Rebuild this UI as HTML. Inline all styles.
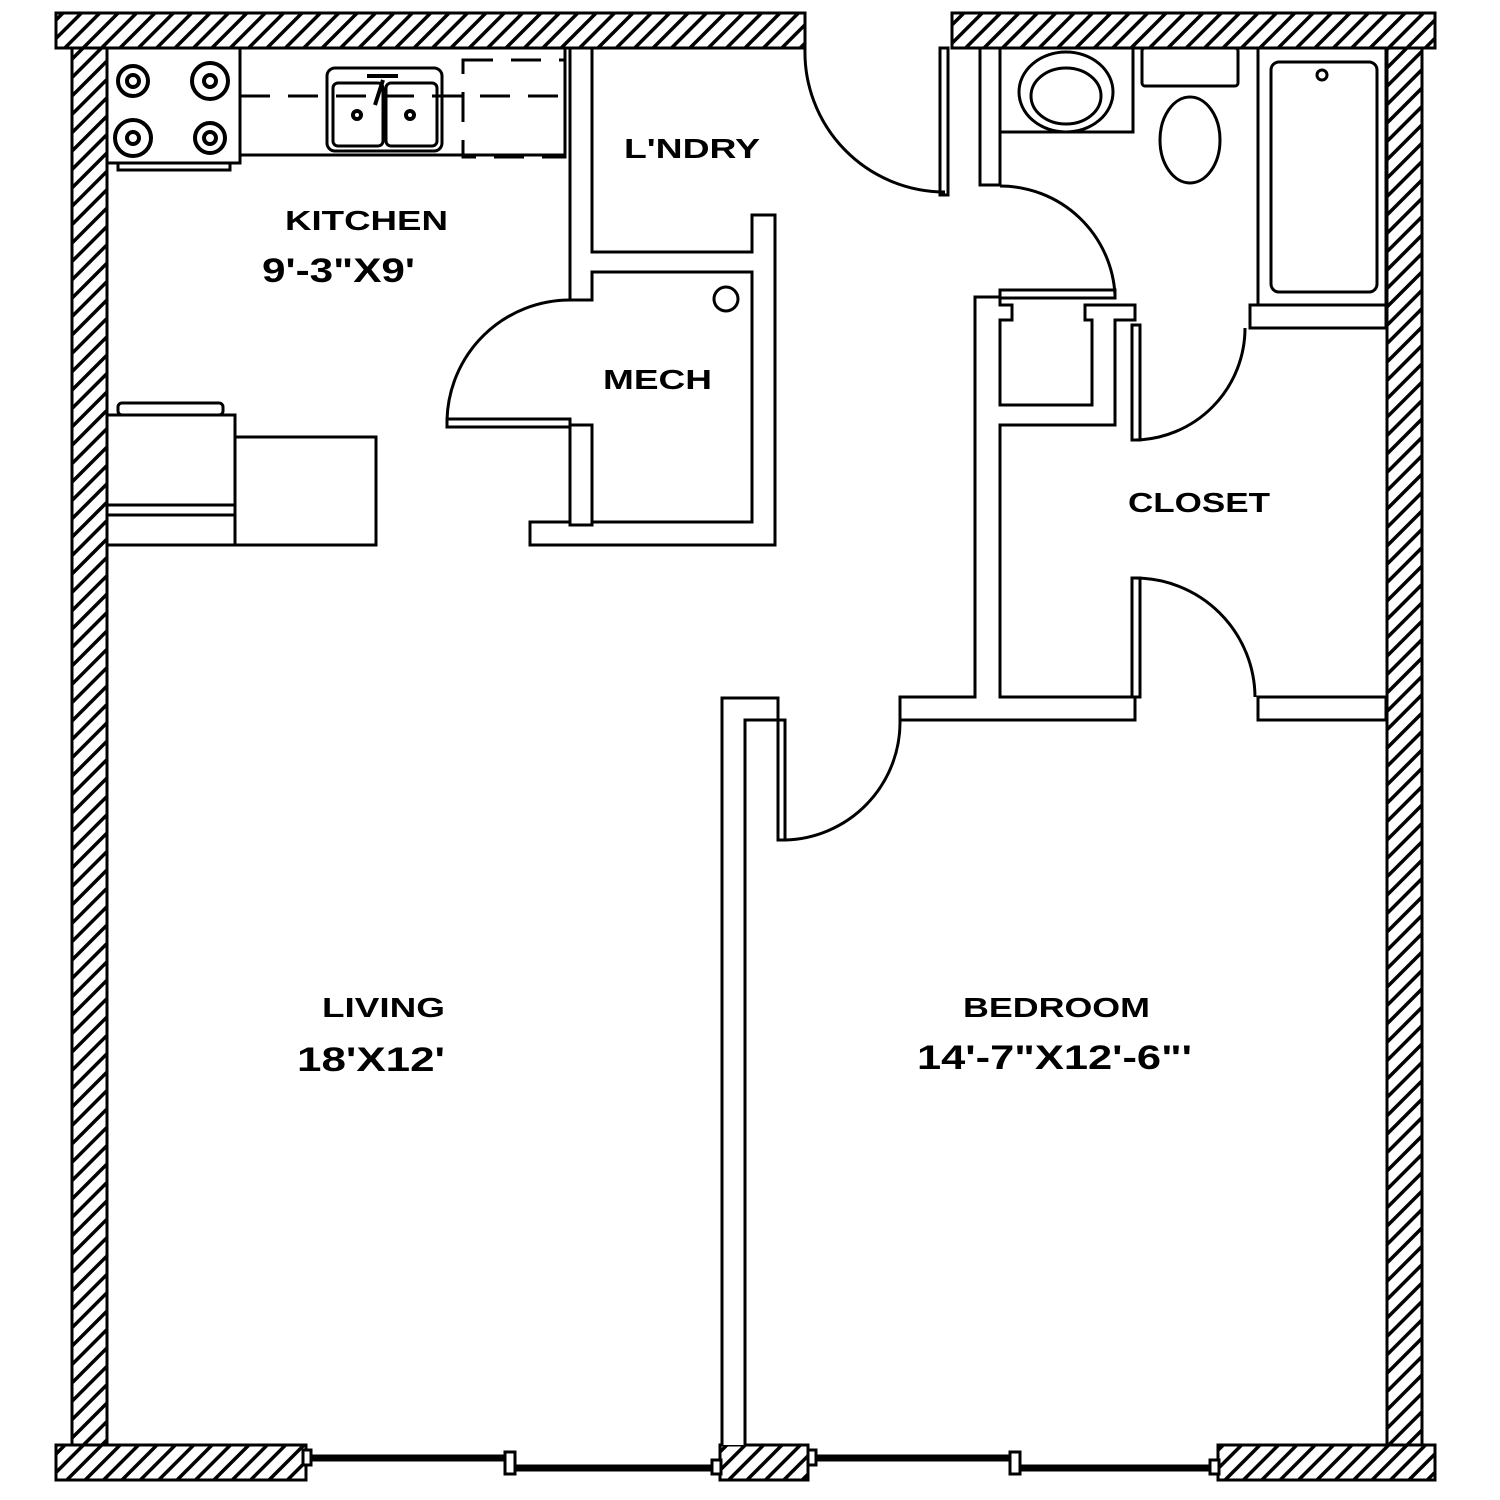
<!DOCTYPE html>
<html><head><meta charset="utf-8"><style>body{margin:0;background:#fff}svg{display:block}text{font-family:"Liberation Sans",sans-serif;font-weight:bold;fill:#000;}</style></head><body>
<svg width="1500" height="1500" viewBox="0 0 1500 1500" xmlns="http://www.w3.org/2000/svg">
<defs><pattern id="h" width="13" height="13" patternUnits="userSpaceOnUse" patternTransform="rotate(45)"><rect width="13" height="13" fill="#fff"/><rect x="0" y="0" width="3.5" height="13" fill="#000"/></pattern></defs>
<g stroke="#000" stroke-width="3" fill="url(#h)">
<rect x="56" y="13" width="749" height="35"/>
<rect x="952" y="13" width="483" height="35"/>
<rect x="72" y="48" width="35" height="1397"/>
<rect x="1387" y="48" width="35" height="1397"/>
<rect x="56" y="1445" width="250" height="35"/>
<rect x="720" y="1445" width="88" height="35"/>
<rect x="1218" y="1445" width="217" height="35"/>
</g>
<g stroke="#000" stroke-width="7"><line x1="306" y1="1458" x2="510" y2="1458"/><line x1="510" y1="1468" x2="720" y2="1468"/><line x1="808" y1="1458" x2="1015" y2="1458"/><line x1="1015" y1="1468" x2="1218" y2="1468"/></g>
<g fill="#fff" stroke="#000" stroke-width="3">
<rect x="303" y="1450" width="8" height="15"/><rect x="505" y="1452" width="10" height="22"/><rect x="712" y="1460" width="9" height="14"/><rect x="808" y="1450" width="8" height="15"/><rect x="1010" y="1452" width="10" height="22"/><rect x="1210" y="1460" width="9" height="14"/>
</g>
<g fill="#fff" stroke="#000" stroke-width="3">
<path d="M570 48 V300 H592 V272 H752 V522 H530 V545 H775 V215 H752 V252 H592 V48 Z"/>
<rect x="570" y="425" width="22" height="100"/>
<rect x="980" y="48" width="20" height="137"/>
<path d="M975 297 V697 H900 V720 H1135 V697 H1000 V425 H1115 V320 H1135 V305 H1085 V320 H1092 V405 H1000 V320 H1012 V305 H1000 V297 Z"/>
<rect x="1258" y="697" width="128" height="23"/>
<rect x="1250" y="305" width="136" height="23"/>
<path d="M722 1445 V698 H778 V720 H745 V1445"/>
<rect x="778" y="720" width="7" height="120"/>
<rect x="1132" y="325" width="8" height="115"/>
<rect x="1132" y="578" width="8" height="119"/>
<rect x="940" y="48" width="8" height="147"/>
<rect x="1000" y="290" width="115" height="8"/>
<rect x="447" y="419" width="123" height="8"/>
<rect x="107" y="48" width="133" height="115"/>
<rect x="118" y="163" width="112" height="7"/>
<rect x="240" y="48" width="325" height="107"/>
<rect x="327" y="68" width="115" height="83" rx="8"/>
<rect x="333" y="83" width="50" height="63" rx="5"/><rect x="386" y="83" width="51" height="63" rx="5"/>
<rect x="107" y="415" width="128" height="130"/>
<rect x="235" y="437" width="141" height="108"/>
<rect x="118" y="403" width="105" height="12" rx="4"/>
<line x1="107" y1="505" x2="235" y2="505"/><line x1="107" y1="515" x2="235" y2="515"/>
<rect x="1000" y="48" width="133" height="84"/>
<ellipse cx="1066" cy="92" rx="47" ry="40"/><ellipse cx="1066" cy="96" rx="35" ry="28"/>
<rect x="1142" y="48" width="96" height="38" rx="3"/>
<ellipse cx="1190" cy="140" rx="30" ry="43"/>
<rect x="1258" y="48" width="128" height="257"/>
<rect x="1271" y="62" width="106" height="230" rx="8"/>
<circle cx="1322" cy="75" r="5"/>
<circle cx="726" cy="299" r="12"/>
</g>
<g fill="none" stroke="#000" stroke-width="3">
<path d="M447 420 A123 123 0 0 1 570 300"/>
<path d="M805 48 A140 140 0 0 0 945 192"/>
<path d="M1000 186 A115 115 0 0 1 1115 295"/>
<path d="M1245 328 A112 112 0 0 1 1135 440"/>
<path d="M1135 578 A120 120 0 0 1 1255 697"/>
<path d="M900 720 A118 118 0 0 1 785 840"/>
<path d="M240 96 H565 M463 60 H565 V157 H463 Z" stroke-dasharray="30 18"/>
</g>
<g fill="none" stroke="#000" stroke-width="4">
<circle cx="133" cy="81" r="15"/><circle cx="133" cy="81" r="6"/>
<circle cx="210" cy="81" r="18"/><circle cx="210" cy="81" r="6"/>
<circle cx="133" cy="138" r="18"/><circle cx="133" cy="138" r="6"/>
<circle cx="210" cy="138" r="15"/><circle cx="210" cy="138" r="6"/>
<circle cx="357" cy="115" r="4"/><circle cx="410" cy="115" r="4"/>
<line x1="383" y1="80" x2="375" y2="105"/><line x1="367" y1="76" x2="398" y2="76"/>
</g>
<text x="285" y="230" font-size="28" textLength="163" lengthAdjust="spacingAndGlyphs">KITCHEN</text>
<text x="262" y="282" font-size="34" textLength="153" lengthAdjust="spacingAndGlyphs">9'-3"X9'</text>
<text x="624" y="158" font-size="28" textLength="136" lengthAdjust="spacingAndGlyphs">L'NDRY</text>
<text x="603" y="389" font-size="28" textLength="109" lengthAdjust="spacingAndGlyphs">MECH</text>
<text x="1128" y="512" font-size="28" textLength="142" lengthAdjust="spacingAndGlyphs">CLOSET</text>
<text x="322" y="1017" font-size="28" textLength="123" lengthAdjust="spacingAndGlyphs">LIVING</text>
<text x="297" y="1071" font-size="34" textLength="148" lengthAdjust="spacingAndGlyphs">18'X12'</text>
<text x="963" y="1017" font-size="28" textLength="187" lengthAdjust="spacingAndGlyphs">BEDROOM</text>
<text x="917" y="1069" font-size="34" textLength="275" lengthAdjust="spacingAndGlyphs">14'-7"X12'-6"'</text>
</svg>
</body></html>
